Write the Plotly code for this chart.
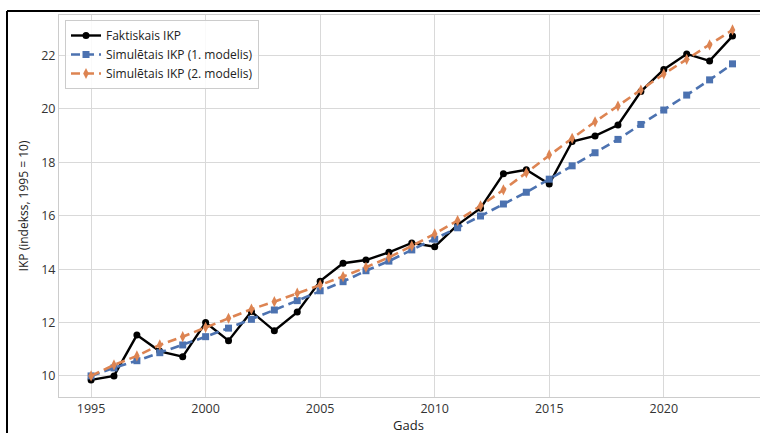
import plotly.graph_objects as go

years = list(range(1995, 2024))
actual = [9.85, 10.0, 11.53, 10.92, 10.72, 12.0, 11.32, 12.41, 11.69, 12.39,
          13.55, 14.22, 14.34, 14.63, 14.98, 14.84, 15.66, 16.28, 17.57, 17.72,
          17.19, 18.78, 18.99, 19.40, 20.65, 21.48, 22.06, 21.80, 22.73]
model1 = [10.0, 10.3, 10.57, 10.87, 11.16, 11.47, 11.79, 12.12, 12.47, 12.82,
          13.19, 13.53, 13.94, 14.30, 14.72, 15.12, 15.55, 15.99, 16.44, 16.88,
          17.37, 17.87, 18.36, 18.86, 19.42, 19.96, 20.52, 21.09, 21.69]
model2 = [10.0, 10.41, 10.75, 11.16, 11.47, 11.82, 12.16, 12.50, 12.78, 13.10,
          13.41, 13.72, 14.07, 14.44, 14.87, 15.32, 15.82, 16.37, 16.97, 17.61,
          18.28, 18.90, 19.52, 20.11, 20.71, 21.31, 21.86, 22.40, 22.96]
names = ["Faktiskais IKP", "Simulētais IKP (1. modelis)", "Simulētais IKP (2. modelis)"]
x_ticks = [1995, 2000, 2005, 2010, 2015, 2020]
y_ticks = [10, 12, 14, 16, 18, 20, 22]
x_title = "Gads"
y_title = "IKP (indekss, 1995 = 10)"

BLUE = "#4c72b0"
ORANGE = "#dd8452"
FONT = "Open Sans"

fig = go.Figure()
fig.add_trace(go.Scatter(x=years, y=actual, name=names[0], mode="lines+markers",
                         line=dict(color="black", width=2.4),
                         marker=dict(symbol="circle", size=7, color="black")))
fig.add_trace(go.Scatter(x=years, y=model1, name=names[1], mode="lines+markers",
                         line=dict(color=BLUE, width=2.6, dash="9px,5px"),
                         marker=dict(symbol="square", size=7, color=BLUE)))
fig.add_trace(go.Scatter(x=years, y=model2, name=names[2], mode="lines+markers",
                         line=dict(color=ORANGE, width=2.6, dash="9px,5px"),
                         marker=dict(symbol="diamond-tall", size=8, color=ORANGE)))

L, R, T, B = 59, 760, 15, 397
W, H = 760, 433

def px2paper_x(px):
    return (px - L) / (R - L)

def px2paper_y(py):
    return (B - py) / (B - T)

fig.update_layout(
    width=W, height=H,
    margin=dict(l=L, r=W - R, t=T, b=H - B, autoexpand=False),
    paper_bgcolor="white", plot_bgcolor="white",
    font=dict(family=FONT, size=12, color="#333333"),
    showlegend=True,
    legend=dict(x=px2paper_x(65), y=px2paper_y(20), xanchor="left", yanchor="top",
                bgcolor="rgba(255,255,255,0.85)", bordercolor="#cccccc", borderwidth=1,
                font=dict(family=FONT, size=12, color="#222222"),
                itemwidth=30, tracegroupgap=0),
    xaxis=dict(range=[1993.6, 2024.2], tickvals=x_ticks, showgrid=True, automargin=False,
               gridcolor="#d9d9d9", gridwidth=1, showline=True, linecolor="#cccccc",
               linewidth=1, mirror=True, zeroline=False, ticks="",
               tickfont=dict(size=12.5, color="#333333")),
    yaxis=dict(range=[9.21, 23.52], tickvals=y_ticks, showgrid=True, automargin=False,
               gridcolor="#d9d9d9", gridwidth=1, showline=True, linecolor="#cccccc",
               linewidth=1, mirror=True, zeroline=False, ticks="",
               tickfont=dict(size=12.5, color="#333333"),
               title=dict(text=y_title, font=dict(size=12, color="#222222"),
                          standoff=10)),
    annotations=[
        dict(text=x_title, xref="paper", yref="paper", x=px2paper_x(408),
             y=px2paper_y(425), xanchor="center", yanchor="middle", showarrow=False,
             font=dict(family=FONT, size=13, color="#222222")),
    ],
    shapes=[
        dict(type="line", xref="paper", yref="paper",
             x0=px2paper_x(7), x1=px2paper_x(762), y0=px2paper_y(11), y1=px2paper_y(11),
             line=dict(color="black", width=2)),
        dict(type="line", xref="paper", yref="paper",
             x0=px2paper_x(7), x1=px2paper_x(7), y0=px2paper_y(11), y1=px2paper_y(440),
             line=dict(color="black", width=2)),
    ],
)

fig.write_html("out.html", config={"displayModeBar": False},
               post_script="document.body.style.margin='0';document.body.style.overflow='hidden';")
